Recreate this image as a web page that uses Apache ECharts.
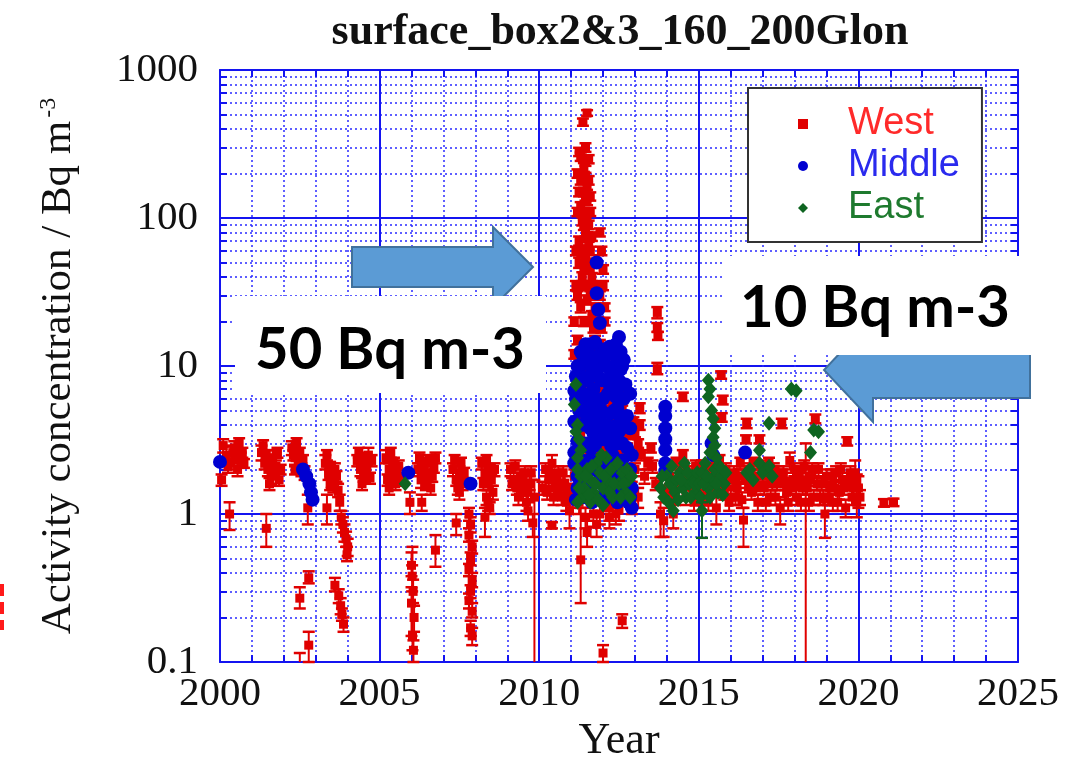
<!DOCTYPE html>
<html>
<head>
<meta charset="utf-8">
<script src="https://cdn.jsdelivr.net/npm/echarts@6/dist/echarts.min.js"></script>
<style>
  html, body { margin: 0; padding: 0; background: #fff; }
  #chart { width: 1066px; height: 761px; }
</style>
</head>
<body>
<div id="chart"></div>
<script>
// Surface activity concentration, box 2&3, 160-200 deg longitude
// West: [year, value, errorLow, errorHigh]
const west = [
  [2000.05, 1.7, 1.55, 1.85], [2000.2, 2.5, 2.2, 2.9], [2000.3, 1.0, 0.78, 1.2], [2000.35, 2.2, 2.0, 2.5],
  [2000.45, 2.8, 2.5, 3.1], [2000.55, 2.0, 1.8, 2.25], [2000.65, 2.3, 2.1, 2.6], [2000.75, 2.2, 2.05, 2.35],
  [2000.1, 2.9, 2.6, 3.2], [2000.25, 2.1, 1.9, 2.3], [2000.4, 2.6, 2.35, 2.85], [2000.5, 2.4, 2.2, 2.6],
  [2000.6, 3.0, 2.75, 3.25], [2000.7, 2.6, 2.4, 2.8],
  [2001.3, 2.6, 2.3, 2.9], [2001.4, 2.2, 2.0, 2.5], [2001.45, 0.8, 0.6, 1.0], [2001.5, 2.0, 1.8, 2.3],
  [2001.6, 1.8, 1.6, 2.0], [2001.65, 2.4, 2.2, 2.7], [2001.75, 2.1, 1.9, 2.3], [2001.85, 1.7, 1.55, 1.9],
  [2001.35, 2.9, 2.65, 3.15], [2001.45, 2.5, 2.3, 2.7], [2001.55, 2.3, 2.1, 2.5], [2001.7, 2.0, 1.8, 2.2],
  [2001.8, 2.6, 2.4, 2.8], [2001.9, 2.0, 1.85, 2.15], [2001.55, 1.6, 1.45, 1.75],
  [2002.25, 2.8, 2.5, 3.1], [2002.35, 2.4, 2.1, 2.7], [2002.45, 2.2, 2.0, 2.5], [2002.5, 0.27, 0.23, 0.32],
  [2002.5, 0.09, 0.07, 0.115], [2002.55, 2.0, 1.8, 2.2], [2002.65, 1.9, 1.7, 2.1], [2002.75, 1.1, 0.85, 1.35],
  [2002.78, 0.37, 0.34, 0.41], [2002.78, 0.13, 0.1, 0.16],
  [2002.3, 2.5, 2.3, 2.7], [2002.4, 3.0, 2.75, 3.25], [2002.5, 2.6, 2.4, 2.8], [2002.6, 2.3, 2.1, 2.5],
  [2002.35, 2.0, 1.85, 2.15],
  [2003.3, 2.2, 2.0, 2.5], [2003.35, 1.1, 0.85, 1.35], [2003.4, 1.9, 1.7, 2.1], [2003.5, 1.7, 1.5, 1.9],
  [2003.6, 2.0, 1.8, 2.2], [2003.6, 0.33, 0.3, 0.37], [2003.7, 1.45, 1.3, 1.6], [2003.72, 0.28, 0.25, 0.31],
  [2003.75, 1.2, 1.05, 1.35], [2003.78, 0.24, 0.21, 0.27], [2003.8, 0.95, 0.85, 1.05], [2003.82, 0.21, 0.19, 0.23],
  [2003.85, 0.85, 0.75, 0.95], [2003.87, 0.18, 0.16, 0.2], [2003.9, 0.75, 0.65, 0.85], [2003.95, 0.68, 0.6, 0.76],
  [2004.0, 0.6, 0.52, 0.68], [2003.98, 0.53, 0.48, 0.6],
  [2003.35, 2.5, 2.3, 2.7], [2003.45, 2.1, 1.95, 2.25], [2003.55, 1.55, 1.4, 1.7], [2003.65, 1.8, 1.65, 1.95],
  [2003.45, 1.6, 1.45, 1.75],
  [2004.3, 2.3, 2.1, 2.5], [2004.4, 2.0, 1.8, 2.2], [2004.5, 1.8, 1.65, 2.0], [2004.55, 2.2, 2.0, 2.4],
  [2004.65, 2.5, 2.3, 2.8], [2004.7, 1.75, 1.6, 1.9],
  [2004.35, 2.6, 2.4, 2.8], [2004.45, 1.6, 1.45, 1.75], [2004.6, 2.0, 1.85, 2.15], [2004.75, 2.3, 2.1, 2.5],
  [2004.5, 2.4, 2.2, 2.6],
  [2005.2, 2.4, 2.2, 2.7], [2005.3, 2.0, 1.8, 2.2], [2005.4, 1.8, 1.6, 2.0], [2005.5, 1.6, 1.45, 1.75],
  [2005.6, 2.1, 1.9, 2.3], [2005.95, 1.2, 1.0, 1.4],
  [2005.25, 1.7, 1.55, 1.85], [2005.35, 2.6, 2.4, 2.8], [2005.45, 2.2, 2.0, 2.4], [2005.55, 1.9, 1.75, 2.05],
  [2005.65, 1.7, 1.55, 1.85], [2005.3, 1.5, 1.35, 1.65],
  [2006.0, 0.45, 0.38, 0.55], [2006.02, 0.38, 0.3, 0.45], [2006.05, 0.3, 0.25, 0.36], [2006.0, 0.25, 0.15, 0.32],
  [2006.08, 0.2, 0.16, 0.24], [2006.03, 0.15, 0.12, 0.6], [2006.06, 0.12, 0.1, 0.14],
  [2006.2, 2.0, 1.8, 2.2], [2006.3, 1.7, 1.5, 1.9], [2006.32, 1.2, 1.05, 1.35], [2006.4, 2.2, 2.0, 2.4],
  [2006.5, 1.9, 1.7, 2.1], [2006.6, 1.5, 1.35, 1.65], [2006.7, 2.1, 1.9, 2.3], [2006.75, 0.57, 0.44, 0.72],
  [2006.25, 2.4, 2.2, 2.6], [2006.35, 2.0, 1.85, 2.15], [2006.45, 1.6, 1.45, 1.75], [2006.55, 2.3, 2.1, 2.5],
  [2006.65, 1.8, 1.65, 1.95], [2006.75, 2.4, 2.2, 2.6],
  [2007.3, 2.0, 1.8, 2.2], [2007.4, 1.7, 1.55, 1.9], [2007.4, 0.87, 0.72, 1.0], [2007.5, 1.9, 1.7, 2.1],
  [2007.6, 1.6, 1.45, 1.75], [2007.8, 1.0, 0.9, 1.1], [2007.85, 0.85, 0.75, 0.95], [2007.8, 0.72, 0.65, 0.8],
  [2007.9, 0.6, 0.54, 0.66], [2007.85, 0.5, 0.45, 0.55], [2007.8, 0.42, 0.38, 0.46], [2007.9, 0.36, 0.32, 0.4],
  [2007.85, 0.3, 0.27, 0.33], [2007.8, 0.26, 0.23, 0.29], [2007.9, 0.22, 0.2, 0.25], [2007.85, 0.17, 0.15, 0.19],
  [2007.9, 0.15, 0.13, 0.17],
  [2007.35, 2.3, 2.1, 2.5], [2007.45, 1.5, 1.35, 1.65], [2007.55, 2.2, 2.0, 2.4], [2007.65, 1.9, 1.75, 2.05],
  [2007.5, 1.4, 1.25, 1.55],
  [2008.2, 2.2, 2.0, 2.4], [2008.3, 1.9, 1.7, 2.1], [2008.35, 1.3, 1.15, 1.45], [2008.3, 0.95, 0.7, 1.1],
  [2008.4, 1.6, 1.45, 1.75], [2008.45, 1.1, 1.0, 1.2], [2008.5, 1.7, 1.55, 1.85], [2008.6, 2.0, 1.8, 2.2],
  [2008.25, 1.6, 1.45, 1.75], [2008.35, 2.3, 2.1, 2.5], [2008.45, 2.0, 1.85, 2.15], [2008.55, 1.4, 1.25, 1.55],
  [2008.4, 1.2, 1.05, 1.35],
  [2009.1, 2.0, 1.8, 2.2], [2009.2, 1.7, 1.55, 1.9], [2009.3, 1.5, 1.35, 1.65], [2009.4, 1.8, 1.6, 2.0],
  [2009.5, 1.4, 1.25, 1.55], [2009.6, 1.2, 1.05, 1.35], [2009.7, 1.6, 1.45, 1.8], [2009.8, 0.87, 0.7, 1.0],
  [2009.85, 1.3, 0.05, 1.7],
  [2009.15, 1.6, 1.45, 1.75], [2009.25, 2.1, 1.9, 2.3], [2009.35, 1.3, 1.15, 1.45], [2009.45, 1.6, 1.45, 1.75],
  [2009.55, 1.9, 1.7, 2.1], [2009.65, 1.4, 1.25, 1.55], [2009.75, 1.9, 1.7, 2.1], [2009.65, 1.05, 0.9, 1.2],
  [2010.2, 2.0, 1.8, 2.2], [2010.3, 1.7, 1.5, 1.9], [2010.4, 2.2, 1.9, 2.5], [2010.4, 0.84, 0.8, 0.88],
  [2010.5, 1.5, 1.3, 1.7], [2010.6, 1.9, 1.7, 2.1], [2010.7, 1.3, 1.15, 1.45], [2010.8, 1.6, 1.4, 1.8],
  [2010.9, 1.4, 1.25, 1.55], [2010.95, 1.05, 0.8, 1.3],
  [2010.25, 1.4, 1.25, 1.55], [2010.35, 1.9, 1.7, 2.1], [2010.45, 1.3, 1.15, 1.45], [2010.55, 1.7, 1.55, 1.85],
  [2010.65, 1.55, 1.4, 1.7], [2010.75, 1.9, 1.7, 2.1], [2010.85, 1.2, 1.05, 1.35], [2010.1, 1.5, 1.35, 1.65],
  // 2011 event
  [2011.05, 1.3, 1.1, 1.5], [2011.1, 1.8, 1.6, 2.0], [2011.15, 2.0, 1.75, 2.3], [2011.2, 1.6, 1.4, 1.8],
  [2011.25, 1.2, 1.0, 1.4], [2011.25, 5.0, 4.5, 5.5], [2011.3, 12, 11, 13], [2011.3, 25, 23, 27],
  [2011.35, 40, 37, 43], [2011.35, 60, 55, 65], [2011.4, 90, 83, 97], [2011.4, 150, 140, 160],
  [2011.4, 220, 205, 235], [2011.37, 445, 420, 470], [2011.45, 300, 280, 320], [2011.5, 512, 490, 535],
  [2011.45, 190, 178, 202], [2011.5, 165, 155, 175], [2011.45, 140, 131, 149], [2011.4, 110, 103, 117],
  [2011.5, 100, 94, 106], [2011.5, 75, 70, 80], [2011.55, 65, 61, 69], [2011.45, 55, 51, 59],
  [2011.6, 45, 42, 48], [2011.55, 35, 33, 37], [2011.6, 30, 28, 32], [2011.5, 28, 26, 30],
  [2011.65, 22, 20.5, 23.5], [2011.7, 18, 16.8, 19.2], [2011.75, 15, 14, 16], [2011.6, 13, 12.2, 13.8],
  [2011.65, 10, 9.3, 10.7], [2011.7, 8, 7.4, 8.6], [2011.75, 6, 5.6, 6.4], [2011.8, 4.5, 4.2, 4.8],
  [2011.85, 3.5, 3.3, 3.7], [2011.9, 80, 75, 85], [2011.95, 60, 56, 64], [2012.0, 45, 42, 48],
  [2012.05, 25, 23.5, 26.5], [2012.05, 20, 18.8, 21.2],
  [2011.15, 8, 7.4, 8.6], [2011.2, 15, 14, 16], [2011.2, 30, 28, 32], [2011.25, 50, 46, 54],
  [2011.25, 70, 65, 75], [2011.3, 120, 112, 128], [2011.3, 180, 168, 192], [2011.3, 260, 243, 277],
  [2011.35, 95, 89, 101], [2011.35, 35, 32.5, 37.5], [2011.4, 20, 18.6, 21.4], [2011.4, 45, 42, 48],
  [2011.45, 80, 75, 85], [2011.45, 240, 225, 255], [2011.5, 130, 122, 138], [2011.5, 50, 47, 53],
  [2011.55, 20, 18.7, 21.3], [2011.55, 90, 84, 96], [2011.6, 60, 56, 64], [2011.6, 110, 103, 117],
  [2011.65, 40, 37.5, 42.5], [2011.65, 75, 70, 80], [2011.7, 30, 28, 32], [2011.7, 50, 47, 53],
  [2011.75, 25, 23.5, 26.5], [2011.8, 35, 33, 37], [2011.8, 12, 11.2, 12.8], [2011.85, 20, 18.7, 21.3],
  [2011.85, 9, 8.4, 9.6], [2011.9, 30, 28, 32], [2011.9, 14, 13, 15], [2011.95, 18, 16.8, 19.2],
  [2011.95, 7, 6.5, 7.5], [2012.0, 10, 9.3, 10.7], [2012.0, 35, 32.5, 37.5],
  [2011.2, 200, 187, 213], [2011.25, 280, 262, 298], [2011.55, 250, 234, 266], [2011.55, 180, 168, 192],
  [2011.6, 140, 131, 149], [2011.25, 150, 140, 160], [2011.2, 110, 103, 117], [2011.15, 60, 56, 64],
  [2011.15, 35, 32.5, 37.5], [2011.1, 20, 18.7, 21.3], [2011.1, 12, 11.2, 12.8],
  [2011.2, 6, 5.6, 6.4], [2011.25, 10, 9.3, 10.7], [2011.3, 3.5, 3.2, 3.8], [2011.35, 7, 6.5, 7.5],
  [2011.4, 4.5, 4.2, 4.8], [2011.45, 9, 8.4, 9.6], [2011.5, 5.5, 5.1, 5.9], [2011.55, 2.5, 2.3, 2.7],
  [2011.6, 6, 5.6, 6.4], [2011.65, 3, 2.8, 3.2], [2011.7, 12, 11.2, 12.8], [2011.75, 2.5, 2.3, 2.7],
  [2011.8, 7, 6.5, 7.5], [2011.9, 5, 4.6, 5.4], [2011.95, 2.8, 2.6, 3.0], [2012.05, 4, 3.7, 4.3],
  [2012.1, 6, 5.6, 6.4], [2012.15, 2.6, 2.4, 2.8], [2012.2, 5, 4.6, 5.4], [2012.25, 3.5, 3.2, 3.8],
  [2012.3, 10, 9.3, 10.7], [2012.4, 2.5, 2.3, 2.7], [2012.45, 12, 11.2, 12.8], [2012.5, 7, 6.5, 7.5],
  [2012.55, 3, 2.8, 3.2], [2012.6, 5, 4.6, 5.4], [2012.6, 2.2, 2.0, 2.4], [2012.7, 4, 3.7, 4.3],
  [2012.75, 2.8, 2.6, 3.0], [2012.8, 1.6, 1.45, 1.75], [2012.85, 3.5, 3.2, 3.8], [2012.2, 0.95, 0.8, 1.1],
  [2012.1, 1.2, 1.05, 1.35],
  [2011.3, 0.49, 0.25, 1.1], [2011.45, 0.95, 0.8, 1.1], [2011.5, 0.75, 0.6, 0.9], [2011.7, 1.0, 0.82, 1.2],
  [2011.8, 0.85, 0.7, 1.0], [2011.9, 1.0, 0.85, 1.15], [2012.0, 0.115, 0.1, 0.13],
  [2012.1, 3.0, 2.8, 3.2], [2012.2, 2.2, 2.0, 2.4], [2012.2, 1.1, 0.9, 1.3], [2012.3, 5.5, 5.1, 5.9],
  [2012.3, 1.3, 1.1, 1.5], [2012.35, 8, 7.4, 8.6], [2012.4, 4.0, 3.7, 4.3], [2012.4, 1.0, 0.85, 1.15],
  [2012.5, 2.5, 2.3, 2.7], [2012.5, 1.06, 0.9, 1.2], [2012.55, 6.5, 6.0, 7.0], [2012.6, 0.19, 0.17, 0.21],
  [2012.65, 3.3, 3.0, 3.6], [2012.7, 1.8, 1.6, 2.0], [2012.8, 2.6, 2.4, 2.8], [2012.9, 1.5, 1.35, 1.65],
  [2012.9, 1.2, 1.0, 1.4], [2012.95, 4.2, 3.9, 4.5], [2013.0, 2.0, 1.8, 2.2], [2013.0, 3.6, 3.3, 3.9],
  [2013.1, 3.0, 2.8, 3.2], [2013.1, 1.3, 1.1, 1.5], [2013.15, 5.2, 4.8, 5.6], [2013.15, 4.0, 3.7, 4.3],
  [2013.2, 2.5, 2.3, 2.7], [2013.3, 1.8, 1.6, 2.0], [2013.4, 2.2, 2.0, 2.4], [2013.5, 2.8, 2.6, 3.0],
  [2013.55, 2.1, 1.9, 2.3], [2013.65, 1.6, 1.45, 1.75], [2013.7, 23, 21, 25], [2013.7, 18, 17, 19.5],
  [2013.72, 16, 15, 17], [2013.7, 9.6, 8.8, 10.5], [2013.8, 1.0, 0.7, 1.2], [2013.9, 0.9, 0.7, 1.1],
  [2014.0, 1.4, 1.25, 1.55], [2014.1, 1.8, 1.6, 2.0], [2014.2, 1.0, 0.8, 1.2], [2014.3, 2.2, 2.0, 2.4],
  [2014.4, 1.6, 1.45, 1.75], [2014.5, 6.2, 5.8, 6.6], [2014.5, 2.5, 2.3, 2.7], [2014.6, 1.3, 1.15, 1.45],
  [2014.7, 1.9, 1.7, 2.1], [2014.8, 1.5, 1.35, 1.65], [2014.9, 2.1, 1.9, 2.3],
  [2014.05, 2.0, 1.8, 2.2], [2014.25, 1.3, 1.15, 1.45], [2014.45, 1.9, 1.7, 2.1], [2014.65, 1.6, 1.45, 1.75],
  [2014.85, 1.2, 1.05, 1.35],
  [2015.05, 1.6, 1.4, 1.8], [2015.15, 1.3, 1.15, 1.45], [2015.25, 2.0, 1.8, 2.2], [2015.35, 1.5, 1.35, 1.65],
  [2015.45, 1.8, 1.6, 2.0], [2015.55, 1.1, 0.85, 1.3], [2015.65, 2.3, 2.1, 2.5], [2015.7, 8.7, 8.2, 9.2],
  [2015.75, 5.9, 5.5, 6.3], [2015.72, 4.5, 4.2, 4.8], [2015.8, 1.4, 1.25, 1.55], [2015.9, 1.7, 1.5, 1.9],
  [2015.1, 2.1, 1.9, 2.3], [2015.3, 1.2, 1.05, 1.35], [2015.5, 2.2, 2.0, 2.4], [2015.6, 1.5, 1.35, 1.65],
  [2015.85, 2.0, 1.8, 2.2], [2015.95, 1.2, 1.05, 1.35],
  [2016.0, 1.3, 1.15, 1.45], [2016.1, 1.9, 1.7, 2.1], [2016.2, 1.5, 1.35, 1.65], [2016.3, 2.2, 2.0, 2.4],
  [2016.4, 0.91, 0.6, 1.1], [2016.45, 1.7, 1.5, 1.9], [2016.5, 4.1, 3.8, 4.4], [2016.48, 3.2, 3.0, 3.4],
  [2016.55, 2.0, 1.8, 2.2], [2016.65, 1.4, 1.25, 1.55], [2016.75, 1.8, 1.6, 2.0], [2016.85, 1.2, 1.05, 1.35],
  [2016.9, 3.2, 3.0, 3.4], [2016.95, 2.1, 1.9, 2.3],
  [2016.05, 1.7, 1.55, 1.85], [2016.15, 1.3, 1.15, 1.45], [2016.25, 1.8, 1.6, 2.0], [2016.35, 1.25, 1.1, 1.4],
  [2016.6, 1.6, 1.45, 1.75], [2016.7, 2.2, 2.0, 2.4], [2016.8, 1.5, 1.35, 1.65],
  [2017.05, 1.5, 1.35, 1.65], [2017.15, 1.8, 1.6, 2.0], [2017.25, 1.3, 1.15, 1.45], [2017.35, 2.0, 1.8, 2.2],
  [2017.45, 1.6, 1.45, 1.75], [2017.55, 1.1, 0.85, 1.3], [2017.6, 4.1, 3.8, 4.4], [2017.65, 1.9, 1.7, 2.1],
  [2017.75, 1.4, 1.25, 1.55], [2017.85, 2.3, 2.0, 2.6], [2017.95, 1.7, 1.5, 1.9],
  [2017.0, 1.8, 1.6, 2.0], [2017.1, 1.2, 1.05, 1.35], [2017.2, 2.2, 2.0, 2.4], [2017.3, 1.6, 1.45, 1.75],
  [2017.4, 1.3, 1.15, 1.45], [2017.5, 1.9, 1.7, 2.1], [2017.7, 1.6, 1.45, 1.75], [2017.8, 1.2, 1.05, 1.35],
  [2017.9, 1.5, 1.35, 1.65],
  [2018.05, 1.3, 1.15, 1.45], [2018.15, 1.9, 1.7, 2.1], [2018.25, 1.5, 1.35, 1.65], [2018.35, 1.7, 0.05, 3.0],
  [2018.45, 1.2, 1.05, 1.35], [2018.55, 2.0, 1.8, 2.2], [2018.65, 4.4, 4.1, 4.7], [2018.7, 1.6, 1.45, 1.75],
  [2018.8, 1.3, 1.15, 1.45], [2018.95, 1.0, 0.69, 1.2], [2019.0, 1.8, 1.6, 2.0],
  [2018.0, 2.0, 1.8, 2.2], [2018.1, 1.6, 1.45, 1.75], [2018.2, 1.2, 1.05, 1.35], [2018.3, 2.1, 1.9, 2.3],
  [2018.4, 1.5, 1.35, 1.65], [2018.5, 1.7, 1.55, 1.85], [2018.6, 1.3, 1.15, 1.45], [2018.75, 2.0, 1.8, 2.2],
  [2018.85, 1.6, 1.45, 1.75], [2018.9, 1.3, 1.15, 1.45],
  [2019.1, 1.5, 1.35, 1.65], [2019.2, 1.2, 1.05, 1.35], [2019.3, 1.9, 1.7, 2.1], [2019.4, 1.4, 1.25, 1.55],
  [2019.5, 1.7, 1.5, 1.9], [2019.6, 1.1, 0.95, 1.25], [2019.65, 3.1, 2.9, 3.3], [2019.7, 1.6, 1.45, 1.75],
  [2019.8, 1.3, 1.15, 1.45], [2019.9, 1.9, 1.5, 2.3], [2019.95, 1.2, 0.95, 1.5], [2020.0, 1.5, 1.1, 1.8],
  [2019.05, 1.3, 1.15, 1.45], [2019.15, 1.8, 1.6, 2.0], [2019.25, 1.5, 1.35, 1.65], [2019.35, 1.2, 1.05, 1.35],
  [2019.45, 2.0, 1.8, 2.2], [2019.55, 1.5, 1.35, 1.65], [2019.75, 1.9, 1.7, 2.1], [2019.85, 1.5, 1.35, 1.65],
  [2020.05, 1.3, 1.15, 1.45], [2019.95, 1.7, 1.55, 1.85],
  [2020.8, 1.19, 1.12, 1.26], [2021.1, 1.2, 1.13, 1.27]
];

// Middle: [year, value]
const middle = [
  [2000.0, 2.25],
  [2002.6, 2.0], [2002.7, 1.8], [2002.8, 1.6], [2002.85, 1.4], [2002.9, 1.25],
  [2005.9, 1.9], [2007.85, 1.6],
  [2011.1, 2.6], [2011.15, 6], [2011.2, 4], [2011.2, 1.5], [2011.25, 9], [2011.3, 6.5], [2011.3, 1.7],
  [2011.35, 12], [2011.4, 3], [2011.4, 5.5], [2011.45, 2.2], [2011.5, 8], [2011.5, 1.4], [2011.55, 11],
  [2011.55, 4.2], [2011.6, 14], [2011.6, 2.8], [2011.65, 5], [2011.7, 7], [2011.7, 3.5], [2011.75, 2.0],
  [2011.8, 50], [2011.8, 31], [2011.85, 24], [2011.85, 8.5], [2011.9, 19.5], [2011.9, 10], [2011.9, 4.5],
  [2011.95, 13], [2012.0, 6], [2012.0, 1.8], [2012.05, 8], [2012.1, 4], [2012.1, 2.3], [2012.15, 12],
  [2012.2, 3.5], [2012.2, 1.5], [2012.25, 9], [2012.3, 2.5], [2012.3, 7], [2012.35, 5], [2012.4, 10],
  [2012.4, 1.9], [2012.45, 7], [2012.5, 15.7], [2012.5, 3.6], [2012.55, 4.5], [2012.6, 3], [2012.65, 11],
  [2012.7, 2], [2012.75, 1.4], [2012.8, 1.2], [2012.9, 1.1],
  [2011.45, 14], [2011.75, 14.5], [2012.2, 13.5], [2012.4, 14],
  [2011.3, 12.5], [2011.55, 12], [2011.75, 11.5], [2012.0, 12], [2012.3, 12], [2012.55, 12.5],
  [2011.2, 10], [2011.45, 10.5], [2011.65, 9.5], [2012.1, 10], [2012.55, 9.5], [2012.6, 10],
  [2011.15, 8.5], [2011.35, 8], [2011.6, 8.5], [2011.95, 8], [2012.2, 7.5], [2012.5, 8], [2012.7, 7.5],
  [2011.1, 6.8], [2011.4, 6.5], [2011.65, 6.2], [2011.8, 6.0], [2012.15, 6.5], [2012.4, 6.2], [2012.65, 6.0],
  [2012.85, 6.5],
  [2011.25, 5.0], [2011.45, 4.8], [2011.7, 5.2], [2011.95, 5.0], [2012.25, 4.8], [2012.45, 5.2], [2012.75, 4.6],
  [2011.1, 4.2], [2011.35, 4.0], [2011.6, 3.8], [2011.85, 4.0], [2012.05, 3.6], [2012.35, 3.9], [2012.6, 4.0],
  [2012.85, 3.8],
  [2011.2, 3.1], [2011.5, 3.0], [2011.75, 2.9], [2012.0, 3.2], [2012.25, 2.9], [2012.45, 3.0], [2012.75, 2.8],
  [2012.9, 2.5],
  [2011.1, 2.2], [2011.35, 2.3], [2011.65, 2.4], [2011.95, 2.3], [2012.15, 2.0], [2012.35, 2.2], [2012.6, 2.3],
  [2012.85, 2.0],
  [2011.2, 1.8], [2011.45, 1.75], [2011.7, 1.6], [2011.9, 1.7], [2012.1, 1.6], [2012.3, 1.75], [2012.5, 1.5],
  [2012.65, 1.6], [2012.9, 1.5],
  [2011.15, 1.25], [2011.4, 1.3], [2011.65, 1.2], [2011.85, 1.3], [2012.05, 1.25], [2012.45, 1.2], [2012.6, 1.3],
  [2012.85, 1.3],
  [2013.95, 5.3], [2013.95, 4.6], [2013.95, 3.8], [2013.95, 3.2], [2013.95, 2.7], [2013.95, 2.2], [2013.95, 1.95],
  [2015.4, 3.0], [2015.45, 2.5], [2016.45, 2.6]
];

// East: [year, value] or [year, value, errorLow, errorHigh]
const east = [
  [2005.8, 1.6],
  [2011.15, 7.5], [2011.2, 4.0], [2011.25, 3.2], [2011.2, 2.4], [2011.3, 1.8], [2011.35, 1.3], [2011.4, 1.5],
  [2011.5, 2.0], [2011.6, 1.7], [2011.7, 1.4], [2011.8, 2.2], [2011.9, 1.9], [2012.0, 1.5], [2012.1, 2.4],
  [2012.15, 1.7], [2012.3, 1.3], [2012.5, 1.6], [2012.6, 1.9], [2012.7, 1.4], [2012.8, 1.7], [2011.2, 1.2],
  [2011.6, 1.2], [2012.0, 1.15],
  [2011.1, 5.5], [2011.15, 3.6], [2011.2, 2.0], [2011.25, 1.5], [2011.3, 2.7], [2011.45, 1.8], [2011.55, 1.35],
  [2011.65, 2.1], [2011.75, 1.6], [2011.85, 1.25], [2011.95, 2.5], [2012.05, 1.8], [2012.2, 1.4], [2012.25, 2.0],
  [2012.35, 1.6], [2012.45, 2.2], [2012.55, 1.3], [2012.65, 1.6], [2012.75, 2.0], [2012.85, 1.3], [2012.9, 1.8],
  [2013.8, 1.5], [2013.9, 1.3], [2014.0, 1.8], [2014.1, 1.6], [2014.2, 1.05], [2014.25, 1.4], [2014.3, 1.7],
  [2014.4, 1.9], [2014.5, 1.5], [2014.6, 1.3], [2014.7, 1.6], [2014.8, 1.8], [2014.9, 1.4],
  [2013.85, 1.8], [2014.05, 1.2], [2014.15, 2.1], [2014.35, 1.25], [2014.45, 1.7], [2014.55, 2.2], [2014.65, 1.9],
  [2014.75, 1.3], [2014.85, 1.6], [2014.95, 1.9],
  [2015.0, 1.6], [2015.1, 1.05, 0.69, 1.2], [2015.1, 1.9], [2015.2, 2.2], [2015.3, 1.5], [2015.4, 1.7],
  [2015.5, 2.0], [2015.6, 1.4], [2015.7, 1.8], [2015.8, 1.6],
  [2015.05, 1.3], [2015.15, 1.6], [2015.25, 1.8], [2015.35, 1.3], [2015.55, 1.6], [2015.65, 2.1], [2015.75, 1.35],
  [2015.85, 1.9], [2015.55, 2.4], [2015.35, 2.6],
  [2015.3, 8.0], [2015.35, 7.0], [2015.3, 6.2], [2015.4, 5.0], [2015.45, 4.4], [2015.5, 3.8], [2015.45, 3.3],
  [2015.5, 2.9],
  [2016.5, 1.9], [2016.6, 2.0], [2016.7, 1.7], [2016.9, 2.7], [2016.9, 2.2], [2017.0, 1.9], [2017.2, 4.1],
  [2017.2, 2.1], [2017.3, 1.8], [2017.9, 7.0], [2018.05, 6.8], [2018.5, 2.6], [2018.6, 3.7], [2018.75, 3.6]
];

const X_MIN = 2000, X_MAX = 2025, X_STEP = 5;
const Y_MIN = 0.1, Y_MAX = 1000;

const RED = '#e00000', BLUE = '#0000d0', GREEN = '#0e6420';
const AXIS_BLUE = '#1414f0';
const SERIF = '"Liberation Serif", "Times New Roman", serif';

// Vertical error bars with end caps, drawn through the cartesian axes
function errorBars(color) {
  return function (params, api) {
    const x = api.value(0);
    const loRaw = api.value(2), hiRaw = api.value(3);
    const lo = Math.max(loRaw, Y_MIN), hi = Math.min(hiRaw, Y_MAX);
    const top = api.coord([x, hi]);
    const bot = api.coord([x, lo]);
    const cap = 6;
    const style = { stroke: color, lineWidth: 2 };
    const capStyle = { stroke: color, lineWidth: 2.5 };
    const children = [{ type: 'line', shape: { x1: top[0], y1: top[1], x2: bot[0], y2: bot[1] }, style }];
    if (hiRaw <= Y_MAX) children.push({ type: 'line', shape: { x1: top[0] - cap, y1: top[1], x2: top[0] + cap, y2: top[1] }, style: capStyle });
    if (loRaw >= Y_MIN) children.push({ type: 'line', shape: { x1: bot[0] - cap, y1: bot[1], x2: bot[0] + cap, y2: bot[1] }, style: capStyle });
    return { type: 'group', children };
  };
}

const dotted = { color: '#2a2aff', width: 1.5, type: [2, 3] };

function xAxisDef(position, primary) {
  return {
    type: 'value', position, min: X_MIN, max: X_MAX, interval: X_STEP,
    axisLine: { show: true, onZero: false, lineStyle: { color: AXIS_BLUE, width: 2 } },
    axisTick: { show: true, inside: true, length: 10, lineStyle: { color: AXIS_BLUE, width: 2 } },
    minorTick: { show: true, splitNumber: 5, length: 7, lineStyle: { color: AXIS_BLUE, width: 2 } },
    axisLabel: primary ? {
      show: true, margin: 12, fontFamily: SERIF, fontSize: 41, color: '#111',
      formatter: v => String(v)
    } : { show: false },
    splitLine: { show: primary, lineStyle: { color: AXIS_BLUE, width: 2 } },
    minorSplitLine: { show: primary, lineStyle: dotted },
    name: primary ? 'Year' : '', nameLocation: 'middle', nameGap: 56,
    nameTextStyle: { fontFamily: SERIF, fontSize: 44, color: '#111' }
  };
}

function yAxisDef(position, primary) {
  return {
    type: 'log', logBase: 10, position, min: Y_MIN, max: Y_MAX,
    axisLine: { show: true, onZero: false, lineStyle: { color: AXIS_BLUE, width: 2 } },
    axisTick: { show: true, inside: true, length: 10, lineStyle: { color: AXIS_BLUE, width: 2 } },
    minorTick: { show: true, splitNumber: 9, length: 7, lineStyle: { color: AXIS_BLUE, width: 2 } },
    axisLabel: primary ? {
      show: true, margin: 22, fontFamily: SERIF, fontSize: 41, color: '#111',
      formatter: v => String(v)
    } : { show: false },
    splitLine: { show: primary, lineStyle: { color: AXIS_BLUE, width: 2 } },
    minorSplitLine: { show: primary, lineStyle: dotted },
    name: primary ? '{a|Activity concentration / Bq m}{s|-3}' : '',
    nameLocation: 'middle', nameGap: 140,
    nameTextStyle: {
      color: '#111',
      rich: {
        a: { fontFamily: SERIF, fontSize: 43, color: '#111' },
        s: { fontFamily: SERIF, fontSize: 24, color: '#111', verticalAlign: 'top', padding: [0, 0, 0, 3] }
      }
    }
  };
}

const chart = echarts.init(document.getElementById('chart'), null, { renderer: 'canvas' });

chart.setOption({
  animation: false,
  backgroundColor: '#ffffff',
  title: {
    text: 'surface_box2&3_160_200Glon',
    left: 615, top: 6, textAlign: 'center',
    textStyle: { fontFamily: SERIF, fontWeight: 'bold', fontSize: 44, color: '#111' }
  },
  grid: { left: 220, right: 48, top: 70, bottom: 99, containLabel: false, outerBoundsMode: 'none' },
  xAxis: [xAxisDef('bottom', true), xAxisDef('top', false)],
  yAxis: [yAxisDef('left', true), yAxisDef('right', false)],
  legend: {
    orient: 'vertical', left: 748, top: 88,
    padding: [16, 22, 14, 50],
    backgroundColor: '#ffffff', borderColor: '#333333', borderWidth: 2, borderRadius: 0,
    itemWidth: 10, itemHeight: 10, itemGap: 2,
    selectedMode: false,
    textStyle: { fontFamily: '"Liberation Sans", Arial, sans-serif', fontSize: 38, lineHeight: 40, padding: [0, 0, 0, 35] },
    data: [
      { name: 'West', icon: 'rect', textStyle: { color: '#ff2a2a' } },
      { name: 'Middle', icon: 'circle', textStyle: { color: '#2a2aee' } },
      { name: 'East', icon: 'diamond', textStyle: { color: '#1e7a2e' } }
    ],
    z: 20
  },
  series: [
    {
      name: 'West error', type: 'custom', xAxisIndex: 0, yAxisIndex: 0, z: 3,
      renderItem: errorBars(RED), encode: { x: 0, y: 1 },
      data: west.filter(d => d.length === 4), silent: true
    },
    {
      name: 'West', type: 'scatter', z: 4, symbol: 'rect', symbolSize: 9,
      itemStyle: { color: RED, opacity: 1 }, data: west.map(d => [d[0], d[1]])
    },
    {
      name: 'Middle', type: 'scatter', z: 5, symbol: 'circle', symbolSize: 14,
      itemStyle: { color: BLUE, opacity: 1 }, data: middle
    },
    {
      name: 'East error', type: 'custom', xAxisIndex: 0, yAxisIndex: 0, z: 6,
      renderItem: errorBars(GREEN), encode: { x: 0, y: 1 },
      data: east.filter(d => d.length === 4), silent: true
    },
    {
      name: 'East', type: 'scatter', z: 7, symbol: 'diamond', symbolSize: [13, 15],
      itemStyle: { color: GREEN, opacity: 1 }, data: east.map(d => [d[0], d[1]])
    }
  ],
  graphic: [
    // callout arrow toward the 2011 peak
    {
      type: 'polygon', z: 100,
      shape: { points: [[352, 247], [493, 247], [493, 227], [533, 267], [493, 307], [493, 287], [352, 287]] },
      style: { fill: '#5b9bd5', stroke: '#41719c', lineWidth: 2 }
    },
    // callout arrow pointing at the 10 Bq level
    {
      type: 'polygon', z: 100,
      shape: { points: [[1030, 342], [873, 342], [873, 318], [824, 370], [873, 422], [873, 398], [1030, 398]] },
      style: { fill: '#5b9bd5', stroke: '#41719c', lineWidth: 2 }
    },
    { type: 'rect', z: 101, shape: { x: 235, y: 296, width: 311, height: 97 }, style: { fill: '#ffffff' } },
    { type: 'rect', z: 101, shape: { x: 723, y: 256, width: 343, height: 99 }, style: { fill: '#ffffff' } },
    {
      type: 'text', z: 102, x: 390, y: 350,
      style: { text: '50 Bq m-3', fill: '#000', font: 'bold 58px Lato, "Open Sans", sans-serif', textAlign: 'center', textVerticalAlign: 'middle' }
    },
    {
      type: 'text', z: 102, x: 875, y: 308,
      style: { text: '10 Bq m-3', fill: '#000', font: 'bold 58px Lato, "Open Sans", sans-serif', textAlign: 'center', textVerticalAlign: 'middle' }
    },
    {
      type: 'polyline', z: 102,
      shape: { points: [[2, 584], [2, 630]] },
      style: { stroke: '#ff1a1a', lineWidth: 4, lineDash: [12, 6] }
    }
  ]
});
</script>
</body>
</html>
